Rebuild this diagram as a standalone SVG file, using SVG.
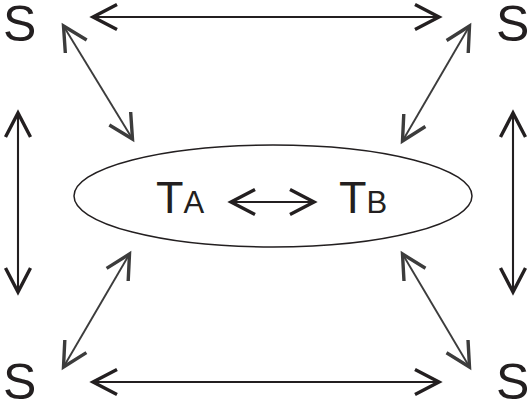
<svg xmlns="http://www.w3.org/2000/svg" width="529" height="405" viewBox="0 0 529 405">
<style>
.lbl{font-family:"Liberation Sans",Arial,sans-serif;fill:#231f20}
.s{font-size:50px}
.big{font-size:45px}
.sub{font-size:31px}
.k{stroke:#231f20;stroke-width:2.1;fill:none;marker-start:url(#hk);marker-end:url(#hk)}
.g{stroke:#3c3c3c;stroke-width:1.9;fill:none;marker-start:url(#hg);marker-end:url(#hg)}
</style>
<defs>
<marker id="hk" markerUnits="userSpaceOnUse" viewBox="-30 -16 34 32" refX="0" refY="0" markerWidth="34" markerHeight="32" orient="auto-start-reverse" overflow="visible">
<path d="M-24,-12.5 L0,0 L-24,12.5" fill="none" stroke="#231f20" stroke-width="3.4"/>
</marker>
<marker id="hg" markerUnits="userSpaceOnUse" viewBox="-30 -16 34 32" refX="0" refY="0" markerWidth="34" markerHeight="32" orient="auto-start-reverse" overflow="visible">
<path d="M-24,-12.5 L0,0 L-24,12.5" fill="none" stroke="#3c3c3c" stroke-width="3.4"/>
</marker>
</defs>
<g id="ellipse-node">
<ellipse cx="273" cy="196" rx="199" ry="51" fill="none" stroke="#231f20" stroke-width="1.5"/>
</g>
<g id="node-TA"><text class="lbl big" x="156" y="213">T<tspan class="sub">A</tspan></text></g>
<g id="node-TB"><text class="lbl big" x="339" y="213">T<tspan class="sub">B</tspan></text></g>
<g id="node-S-tl"><text class="lbl s" x="3" y="41">S</text></g>
<g id="node-S-tr"><text class="lbl s" x="496" y="41">S</text></g>
<g id="node-S-bl"><text class="lbl s" x="3" y="399">S</text></g>
<g id="node-S-br"><text class="lbl s" x="496" y="399">S</text></g>
<g id="connectors">
<line class="k" x1="93" y1="17" x2="439" y2="17"/>
<line class="k" x1="93" y1="382" x2="439" y2="382"/>
<line class="k" x1="18" y1="113" x2="18" y2="292"/>
<line class="k" x1="513" y1="113" x2="513" y2="292"/>
<line class="k" x1="231" y1="202" x2="314" y2="202"/>
<line class="g" x1="63.5" y1="26" x2="132.5" y2="139"/>
<line class="g" x1="469.5" y1="26" x2="402.5" y2="141"/>
<line class="g" x1="129.5" y1="254" x2="63.5" y2="367"/>
<line class="g" x1="402.5" y1="254" x2="469.5" y2="367"/>
</g>
</svg>
